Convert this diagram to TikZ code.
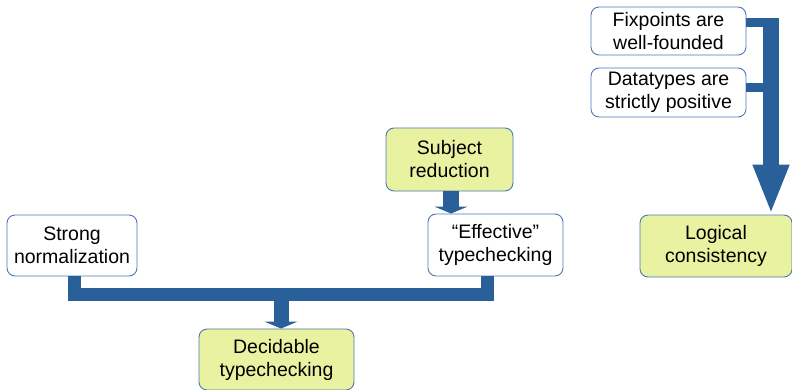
\documentclass[tikz,border=0pt]{standalone}
\usepackage{fontspec}
\setmainfont{Liberation Sans}
\usetikzlibrary{arrows.meta}
\definecolor{flow}{HTML}{2A6099}
\definecolor{edge}{HTML}{4A78B4}
\definecolor{lemon}{HTML}{E8F2A1}
\begin{document}
\begin{tikzpicture}[x=1pt,y=-1pt,
  box/.style={draw=edge,line width=0.9pt,rounded corners=8pt,fill=white,
    align=center,inner sep=0pt,font=\fontsize{19.5}{23}\selectfont},
  goal/.style={box,fill=lemon},
  bar/.style={draw=flow,line width=#1,line join=miter,line cap=butt},
  bar/.default=13pt,
  flowarrow/.style={bar=#1,-{Triangle[width=33pt,length=7pt]}}]
\useasboundingbox (0,0) rectangle (792,389);

% premises and results
\node[box,minimum width=130pt,minimum height=61pt] (sn) at (72,245.5) {Strong\\normalization};
\node[goal,minimum width=155pt,minimum height=61pt] (dec) at (276.5,359.5) {Decidable\\typechecking};
\node[goal,minimum width=127pt,minimum height=63pt] (sr) at (449.5,159.5) {Subject\\reduction};
\node[box,minimum width=135pt,minimum height=62pt] (eff) at (495.5,245) {``Effective''\\typechecking};
\node[box,minimum width=155pt,minimum height=48pt] (fix) at (668.5,31) {Fixpoints are\\well-founded};
\node[box,minimum width=155pt,minimum height=49pt] (dat) at (668.5,92.5) {Datatypes are\\strictly positive};
\node[goal,minimum width=152pt,minimum height=62pt] (lc) at (716,246) {Logical\\consistency};

% decidable typechecking: join of the two premises
\coordinate (join) at (281,294.5);
\draw[bar] (sn.south -| 74.5,0) -- (74.5,294.5) -- (487,294.5) -- (eff.south -| 487,0);
\draw[flowarrow=15pt] (join) -- (dec.north -| join);
\draw[flowarrow=16pt] (sr.south -| 451,0) -- (eff.north -| 451,0);

% logical consistency: spine with two side branches
\coordinate (spine) at (771,18);
\draw[bar=9pt] (fix.east |- 0,22.5) -- (764,22.5);
\draw[bar=9pt] (dat.east |- 0,87.5) -- (764,87.5);
\draw[draw=flow,line width=16pt,-{Triangle[width=33pt,length=50pt]}] (spine) -- (lc.north -| spine);
\end{tikzpicture}
\end{document}
